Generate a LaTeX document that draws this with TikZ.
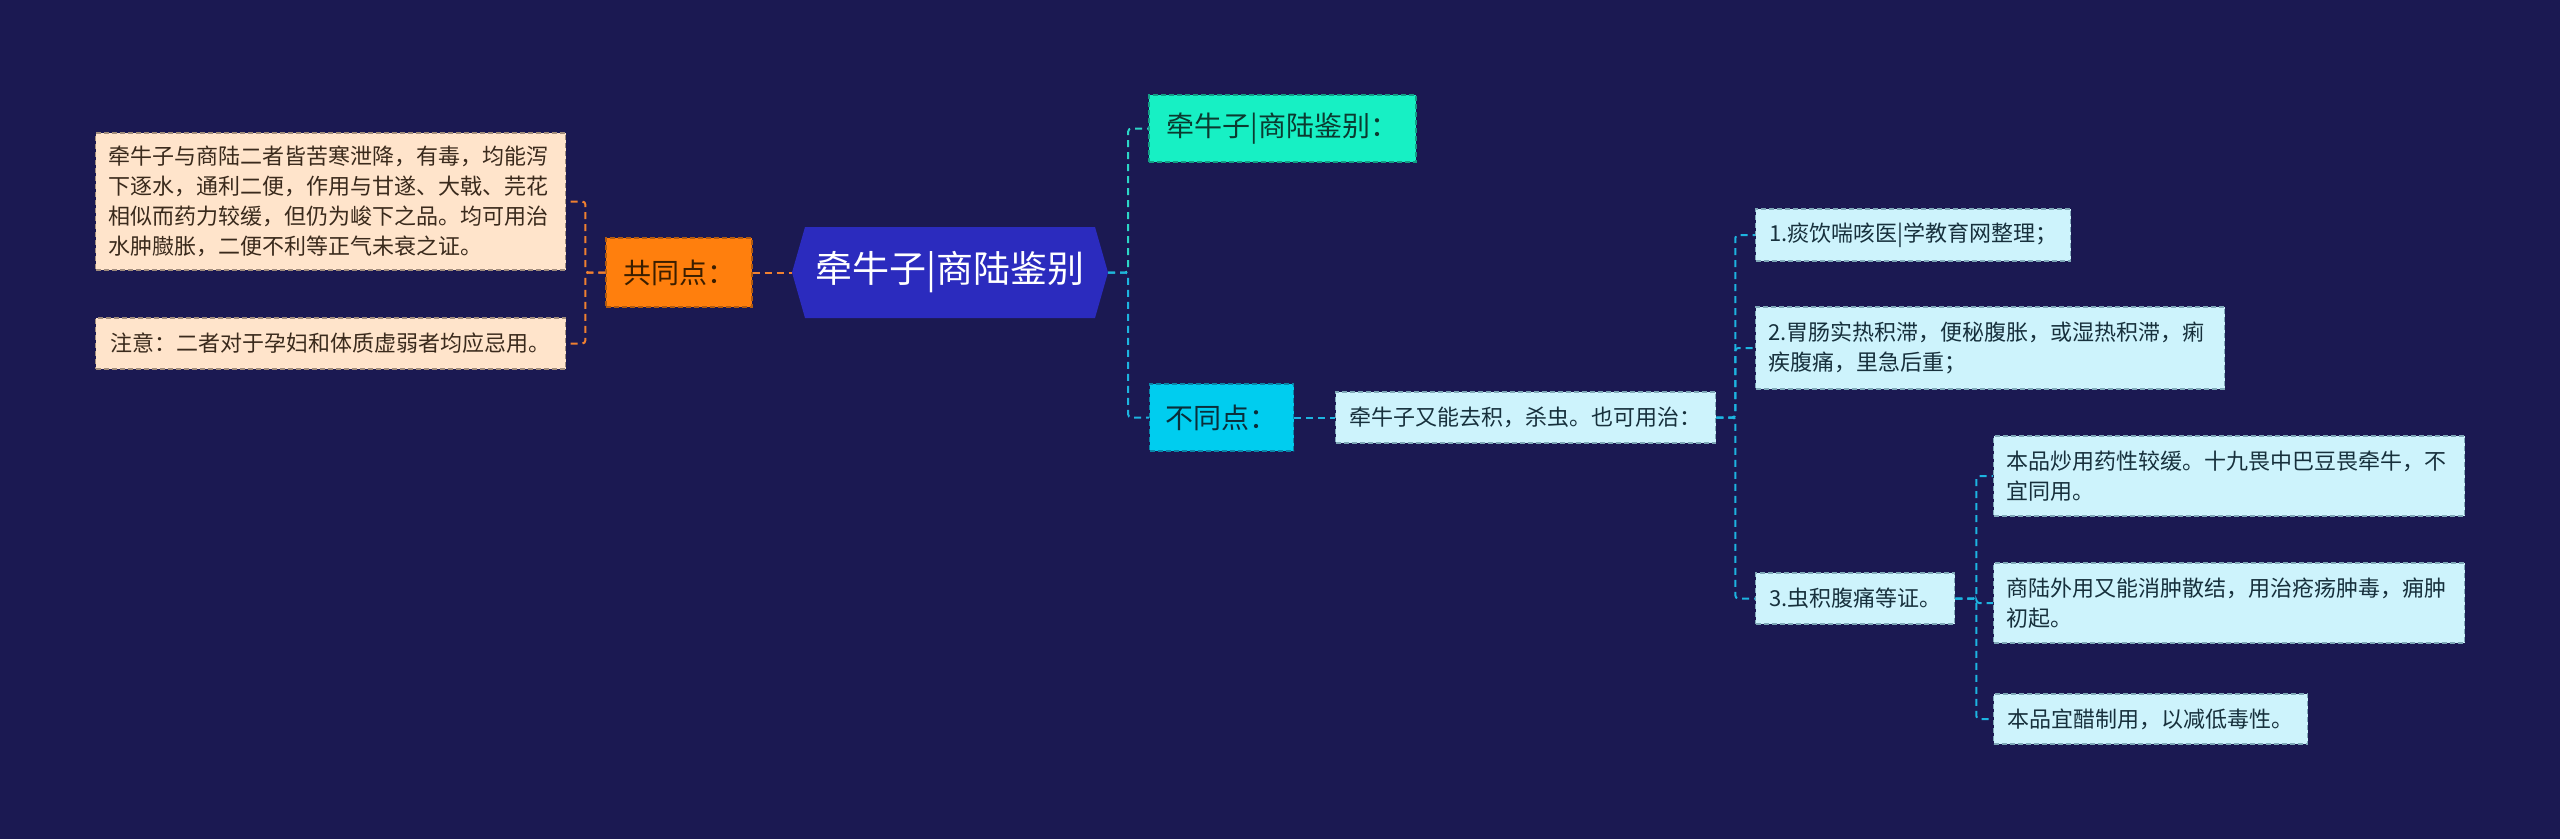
\documentclass[tikz,border=0pt]{standalone}
\usepackage{fontspec}
\setmainfont{Noto Sans CJK SC}
\definecolor{bg}{HTML}{1B1952}
\definecolor{rootc}{HTML}{2B2BBE}
\definecolor{orangec}{HTML}{FF7F0D}
\definecolor{orangeline}{HTML}{B05A10}
\definecolor{orangetext}{HTML}{3A1E00}
\definecolor{peach}{HTML}{FFE4CB}
\definecolor{peachline}{HTML}{A08C7C}
\definecolor{peachtext}{HTML}{3A2A1C}
\definecolor{tealc}{HTML}{17F0C4}
\definecolor{tealline}{HTML}{139E86}
\definecolor{tealtext}{HTML}{0B3A30}
\definecolor{cyanc}{HTML}{00CDEF}
\definecolor{cyanline}{HTML}{0A86A8}
\definecolor{cyantext}{HTML}{0A2E3A}
\definecolor{lightc}{HTML}{CDF3FC}
\definecolor{lightline}{HTML}{7FA8B8}
\definecolor{leaftext}{HTML}{17303C}
\definecolor{orangeconn}{HTML}{F08030}
\definecolor{tealconn}{HTML}{2CD6C6}
\definecolor{cyanconn}{HTML}{1DB4E0}
\begin{document}
\begin{tikzpicture}[x=1pt,y=-1pt,
  box/.style={rectangle, line width=1.3pt, dash pattern=on 5pt off 3pt, inner xsep=13pt, inner ysep=0pt},
  leaf/.style={box, fill=lightc, draw=lightline, text=leaftext, font=\fontsize{22pt}{30pt}\selectfont},
  pleaf/.style={box, fill=peach, draw=peachline, text=peachtext, font=\fontsize{22pt}{30pt}\selectfont},
  midbox/.style={box, font=\fontsize{28pt}{34pt}\selectfont},
  conn/.style={line width=2pt, dash pattern=on 7pt off 5pt, rounded corners=3pt},
]
\path[use as bounding box, fill=bg] (0,0) rectangle (2560,839);

% root hexagon
\fill[rootc] (792,272.5) -- (805,227) -- (1095,227) -- (1108,272.5) -- (1095,318) -- (805,318) -- cycle;
\node[inner sep=0pt, minimum width=316pt, minimum height=91pt, text=white, font=\fontsize{37pt}{42pt}\selectfont] (root) at (950,272.5) {牵牛子|商陆鉴别};

% left side
\node[midbox, fill=orangec, draw=orangeline, text=orangetext, minimum width=146pt, minimum height=69pt] (gong) at (679,272.5) {共同点：};
\node[pleaf, anchor=west, text width=444pt, align=left, minimum height=137pt] (ca) at (95,201.5) {牵牛子与商陆二者皆苦寒泄降，有毒，均能泻\\下逐水，通利二便，作用与甘遂、大戟、芫花\\相似而药力较缓，但仍为峻下之品。均可用治\\水肿臌胀，二便不利等正气未衰之证。};
\node[pleaf, anchor=west, minimum width=470pt, minimum height=51pt] (cb) at (95,343.5) {注意：二者对于孕妇和体质虚弱者均应忌用。};

% right side
\node[midbox, fill=tealc, draw=tealline, text=tealtext, minimum width=267pt, minimum height=67pt] (tp) at (1282.5,128.5) {牵牛子|商陆鉴别：};
\node[midbox, fill=cyanc, draw=cyanline, text=cyantext, minimum width=144pt, minimum height=67pt] (bt) at (1221.5,417.5) {不同点：};
\node[leaf, anchor=west, minimum width=380pt, minimum height=51pt] (q) at (1335,417.5) {牵牛子又能去积，杀虫。也可用治：};
\node[leaf, anchor=west, minimum width=315pt, minimum height=52pt] (l1) at (1755,235) {1.痰饮喘咳医|学教育网整理；};
\node[leaf, anchor=west, text width=443pt, align=left, minimum height=82pt] (l2) at (1755,348) {2.胃肠实热积滞，便秘腹胀，或湿热积滞，痢\\疾腹痛，里急后重；};
\node[leaf, anchor=west, minimum width=199pt, minimum height=51pt] (l3) at (1755,598.5) {3.虫积腹痛等证。};
\node[leaf, anchor=west, text width=445pt, align=left, minimum height=80pt] (m1) at (1993,476) {本品炒用药性较缓。十九畏中巴豆畏牵牛，不\\宜同用。};
\node[leaf, anchor=west, text width=445pt, align=left, minimum height=80pt] (m2) at (1993,603) {商陆外用又能消肿散结，用治疮疡肿毒，痈肿\\初起。};
\node[leaf, anchor=west, minimum width=314pt, minimum height=50pt] (m3) at (1993,719) {本品宜醋制用，以减低毒性。};

% connectors
\draw[conn, orangeconn] (gong.east) -- (root.west);
\draw[conn, orangeconn] (gong.west) -- ++(-20,0) |- (ca.east);
\draw[conn, orangeconn] (gong.west) -- ++(-20,0) |- (cb.east);
\draw[conn, tealconn] (root.east) -- ++(20,0) |- (tp.west);
\draw[conn, cyanconn] (root.east) -- ++(20,0) |- (bt.west);
\draw[conn, cyanconn] (bt.east) -- (q.west);
\draw[conn, cyanconn] (q.east) -- ++(19,0) |- (l1.west);
\draw[conn, cyanconn] (q.east) -- ++(19,0) |- (l2.west);
\draw[conn, cyanconn] (q.east) -- ++(19,0) |- (l3.west);
\draw[conn, cyanconn] (l3.east) -- ++(21,0) |- (m1.west);
\draw[conn, cyanconn] (l3.east) -- ++(21,0) |- (m2.west);
\draw[conn, cyanconn] (l3.east) -- ++(21,0) |- (m3.west);
\end{tikzpicture}
\end{document}
